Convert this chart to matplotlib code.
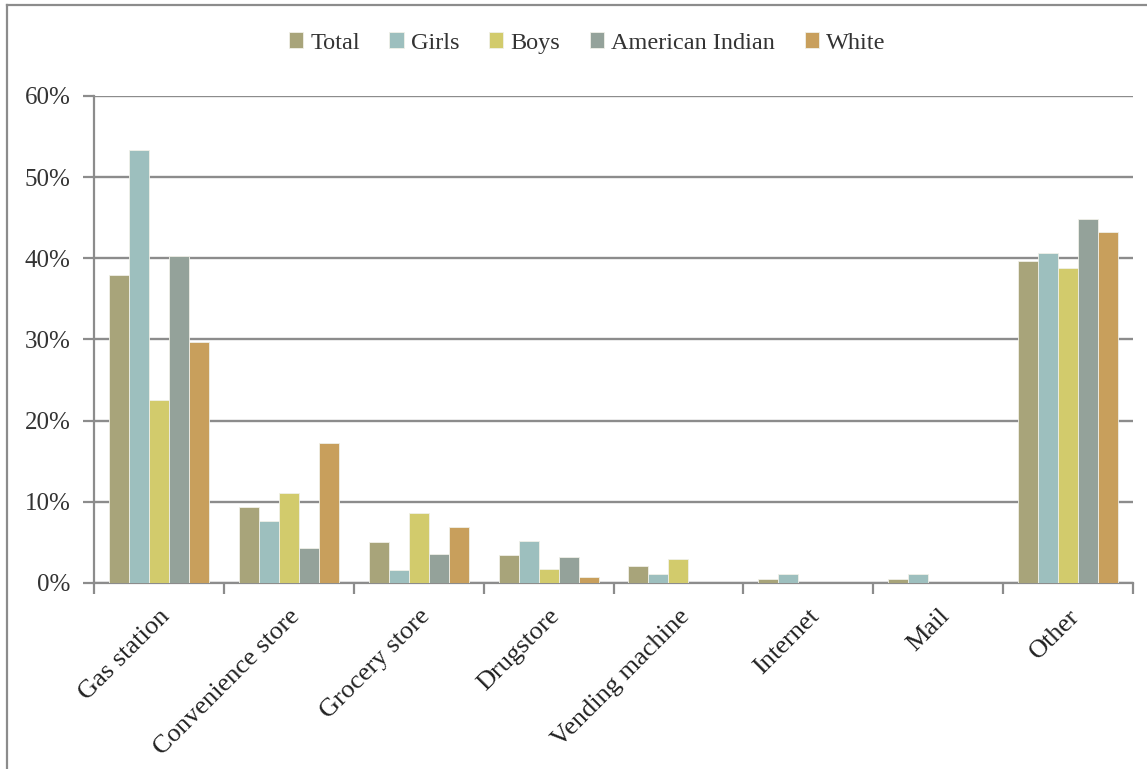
import matplotlib
matplotlib.use("Agg")
import matplotlib.pyplot as plt
import numpy as np
from matplotlib.lines import Line2D

plt.rcParams['font.family'] = ['Liberation Serif', 'DejaVu Serif']

categories = ["Gas station", "Convenience store", "Grocery store", "Drugstore",
              "Vending machine", "Internet", "Mail", "Other"]
series_names = ["Total", "Girls", "Boys", "American Indian", "White"]

total = [37.9, 9.4, 5.1, 3.4, 2.1, 0.5, 0.5, 39.7]
girls = [53.4, 7.6, 1.6, 5.2, 1.1, 1.1, 1.1, 40.6]
boys = [22.6, 11.1, 8.6, 1.7, 3.0, 0, 0, 38.8]
american_indian = [40.3, 4.3, 3.6, 3.2, 0, 0, 0, 44.8]
white = [29.7, 17.2, 6.9, 0.7, 0, 0, 0, 43.3]

colors = ["#A8A47A", "#9DBFBE", "#D2CB6C", "#94A29A", "#C89F5C"]

fig = plt.figure(figsize=(11.47, 7.69), dpi=100)
ax = fig.add_axes([0.082, 0.2419, 0.9058, 0.6333])

x = np.arange(len(categories))
width = 0.154
all_series = [total, girls, boys, american_indian, white]
for i, (vals, name, c) in enumerate(zip(all_series, series_names, colors)):
    ax.bar(x + (i - 2) * width, vals, width, color=c, label=name,
           edgecolor="#f0f0e8", linewidth=0.6, zorder=3)

ax.set_xlim(-0.5, len(categories) - 0.5)
ax.set_ylim(0, 60)
ax.set_yticks(np.arange(0, 61, 10))
ax.set_yticklabels(["%d%%" % v for v in range(0, 61, 10)], fontsize=18, color="#333333")
ax.yaxis.grid(True, color="#8c8c8c", linewidth=1.7, zorder=0)

ax.set_xticks(np.arange(-0.5, len(categories), 1.0))
ax.set_xticklabels([])
ax.set_xticks(x, minor=True)
ax.set_xticklabels(categories, minor=True, rotation=45, ha="right",
                   rotation_mode="anchor", fontsize=19, color="#222222")
ax.tick_params(axis="x", which="minor", length=0, pad=16)
ax.tick_params(axis="x", which="major", length=8, width=1.6, color="#8c8c8c")
ax.tick_params(axis="y", length=8, width=1.6, color="#8c8c8c", pad=9)

for s in ["top", "right"]:
    ax.spines[s].set_visible(False)
for s in ["left", "bottom"]:
    ax.spines[s].set_color("#8c8c8c")
    ax.spines[s].set_linewidth(1.6)

ax.legend(loc="center", bbox_to_anchor=(0.512, 0.944), bbox_transform=fig.transFigure,
          ncol=5, frameon=False, fontsize=17.5, handlelength=0.6, handleheight=0.6,
          handletextpad=0.3, columnspacing=1.2, labelcolor="#333333")

# outer frame (left and top edges)
fig.add_artist(Line2D([7 / 1147, 7 / 1147], [0, 1 - 5 / 769], transform=fig.transFigure,
                      color="#8c8c8c", linewidth=1.6))
fig.add_artist(Line2D([7 / 1147, 1], [1 - 5 / 769, 1 - 5 / 769], transform=fig.transFigure,
                      color="#8c8c8c", linewidth=1.6))

fig.savefig("out.png", dpi=100)
